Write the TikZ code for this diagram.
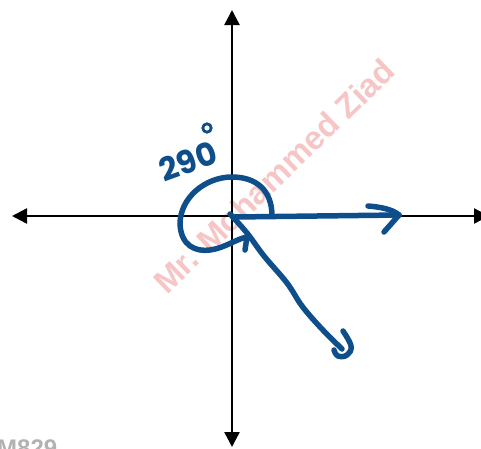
\documentclass[tikz,border=0pt]{standalone}
\usepackage{fontspec}
\usetikzlibrary{arrows.meta}
\definecolor{ink}{RGB}{14,78,138}
\definecolor{wm}{RGB}{238,140,140}
\newfontfamily\wmfont{Liberation Sans}
\newfontfamily\handfont{Poppins}
\begin{document}
\begin{tikzpicture}[x=1pt,y=-1pt,
  axis/.style={line width=2.4pt,{Triangle[length=15pt,width=15pt]}-{Triangle[length=15pt,width=15pt]}},
  pen/.style={ink,line width=5.5pt,line cap=round,line join=round},
  watermark/.style={text=wm,opacity=0.5,font=\wmfont\bfseries\fontsize{33}{33}\selectfont},
  label/.style={text=ink,font=\handfont\bfseries\fontsize{32}{32}\selectfont,inner sep=0pt},
  stamp/.style={text=black!30,font=\wmfont\bfseries\fontsize{24}{24}\selectfont,inner sep=0pt}]
\useasboundingbox (0,0) rectangle (481,448);
\clip (0,0) rectangle (481,448);
% watermark
\node[watermark,rotate=44] (wmk) at (274,176) {Mr. Mohammed Ziad};
\node[stamp,anchor=north west] (stp) at (-3,440) {M829};
% axes
\coordinate (O) at (232,216);
\coordinate (xl) at (12,216);
\coordinate (xr) at (489,216);
\coordinate (yt) at (232,10);
\coordinate (yb) at (232,447);
\draw[axis] (xl) -- (xr);
\draw[axis] (yb) -- (yt);
% vector along positive x-axis
\coordinate (v1s) at (234,217);
\coordinate (v1e) at (399,215);
\draw[pen] (v1s) -- (v1e);
\draw[pen] (368,206) .. controls (380,207) and (392,209) .. (v1e);
\draw[pen] (v1e) -- (384,232);
% angle arc
\coordinate (a0) at (272,216);
\coordinate (a1) at (247,237);
\draw[pen] (a0) .. controls (272,190) and (256,177) .. (232,177)
  .. controls (205,177) and (180,198) .. (180,224)
  .. controls (181,246) and (196,252) .. (210,250)
  .. controls (225,248) and (236,239) .. (a1);
\draw[pen] (a1) -- (245,250);
% second vector
\coordinate (v2s) at (230,214);
\coordinate (v2e) at (342,349);
\draw[pen] plot[smooth,tension=0.6] coordinates {(v2s) (247,233) (264,256) (287,283) (302,306) (321,328) (v2e)};
\draw[pen] plot[smooth,tension=0.7] coordinates {(343,331) (351,346) (347,355) (338,356) (334,350)};
% label
\node[label,rotate=20] (lab) at (188,161) {290};
\draw[ink,line width=2.8pt] (207,128) circle[radius=4.2];
\end{tikzpicture}
\end{document}
